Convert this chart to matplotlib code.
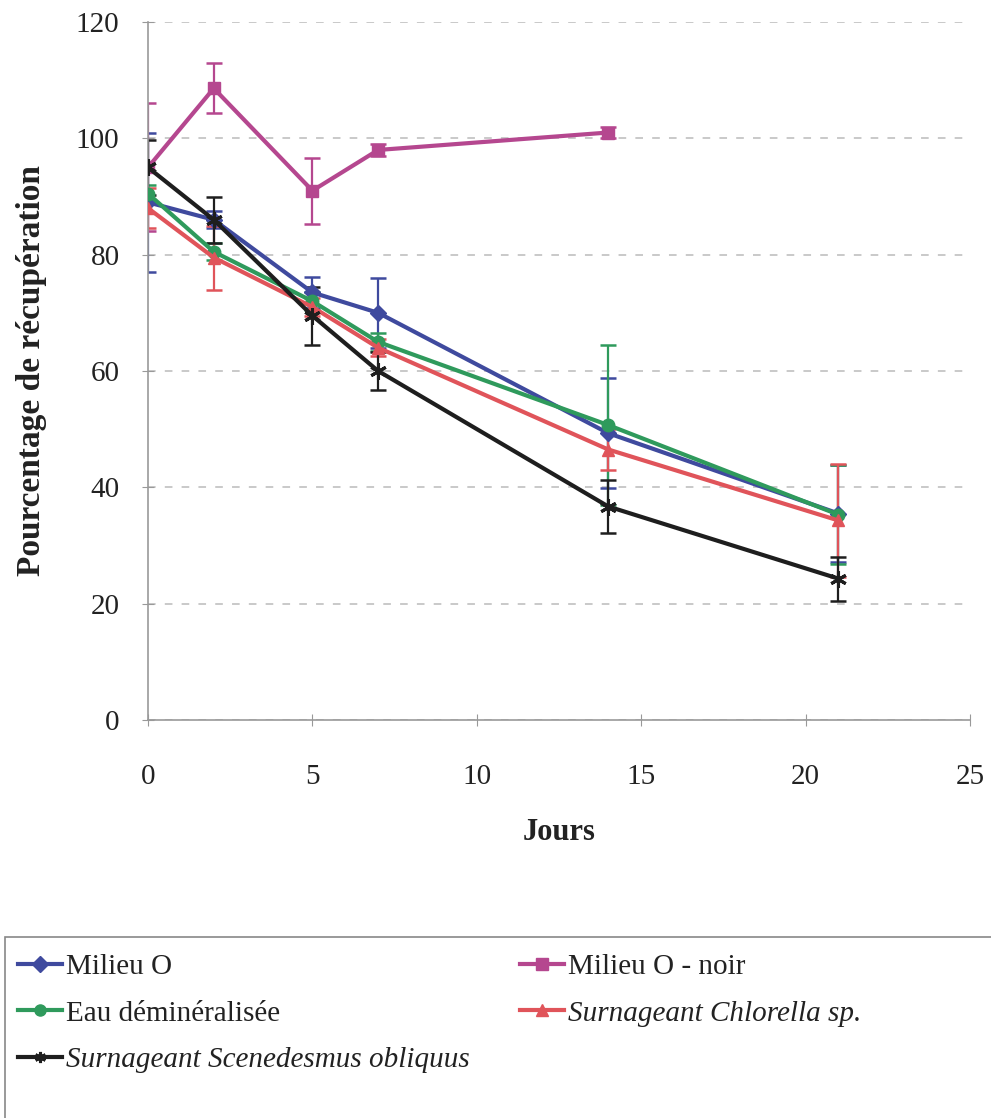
import matplotlib
matplotlib.use("Agg")
import matplotlib.pyplot as plt
from matplotlib.patches import Rectangle

plt.rcParams['font.family'] = ['Liberation Serif', 'DejaVu Serif']

days = [0, 2, 5, 7, 14, 21]
days_noir = [0, 2, 5, 7, 14]

milieu_o = [89, 86, 73.5, 70, 49.3, 35.5]
milieu_o_err = [12, 1.5, 2.7, 6, 9.5, 8.3]

milieu_noir = [95, 108.6, 91, 98, 101]
milieu_noir_err = [11, 4.3, 5.7, 1, 1]

eau = [90.5, 80.5, 72, 65, 50.7, 35.3]
eau_err = [1.5, 1.5, 1.5, 1.5, 13.8, 8.5]

chlorella = [88, 79.5, 71, 64, 46.5, 34.3]
chlorella_err = [3.5, 5.5, 1.5, 1.5, 3.5, 9.7]

scenedesmus = [95, 86, 69.5, 60, 36.7, 24.3]
scenedesmus_err = [4.7, 4, 5, 3.3, 4.5, 3.8]

labels = ["Milieu O", "Milieu O - noir", "Eau déminéralisée",
          "Surnageant Chlorella sp.", "Surnageant Scenedesmus obliquus"]

W, H = 991, 1118
fig = plt.figure(figsize=(W/100, H/100), dpi=100)
ax = fig.add_axes([148/W, 398/H, 822/W, 698/H])

series = [
    (days, milieu_o, milieu_o_err, '#3f4a9e', 'D', 8, labels[0]),
    (days_noir, milieu_noir, milieu_noir_err, '#b5478f', 's', 9, labels[1]),
    (days, eau, eau_err, '#2f9a5c', 'o', 9, labels[2]),
    (days, chlorella, chlorella_err, '#e0545a', '^', 9, labels[3]),
    (days, scenedesmus, scenedesmus_err, '#1e1e1e', (6, 2, 0), 12, labels[4]),
]

handles = {}
for x, y, e, c, m, ms, lab in series:
    ax.errorbar(x, y, yerr=e, color=c, lw=0, elinewidth=1.6, capsize=6,
                capthick=1.8, zorder=2)
    ln, = ax.plot(x, y, color=c, lw=3.0, marker=m, ms=ms, mec=c, mfc=c,
                  mew=2.2 if m == (6, 2, 0) else 1, zorder=3, label=lab)
    handles[lab] = ln

ax.set_xlim(0, 25)
ax.set_ylim(0, 120)
ax.set_xticks([0, 5, 10, 15, 20, 25])
ax.set_yticks([0, 20, 40, 60, 80, 100, 120])
ax.tick_params(axis='both', direction='inout', length=9, color='#999999',
               labelsize=21, labelcolor='#222222')
ax.tick_params(axis='x', pad=27)
ax.tick_params(axis='y', pad=16)
for s in ['top', 'right']:
    ax.spines[s].set_visible(False)
for s in ['left', 'bottom']:
    ax.spines[s].set_color('#999999')
    ax.spines[s].set_linewidth(1.2)
ax.yaxis.grid(True, linestyle=(0, (5, 6)), color='#bbbbbb', lw=1.1)
ax.set_axisbelow(True)

ax.set_xlabel("Jours", fontsize=22, fontweight='bold', color='#222222')
ax.set_ylabel("Pourcentage de récupération", fontsize=24, fontweight='bold',
              color='#222222')
ax.xaxis.set_label_coords(0.5, (720 - 818) / 698)
ax.yaxis.set_label_coords((47 - 148) / 822, 0.5)

# legend box
fig.patches.append(Rectangle((5/W, -0.02), 1.0, (H - 937)/H + 0.02,
                             transform=fig.transFigure, fill=False,
                             edgecolor='#888888', lw=1.2))

common = dict(loc='upper left', frameon=False, fontsize=21, handlelength=1.5,
              handletextpad=0.15, labelspacing=0.68, borderaxespad=0,
              borderpad=0)
col1 = [labels[0], labels[2], labels[4]]
col2 = [labels[1], labels[3]]
legs = []
legs.append(fig.legend([handles[l] for l in col1], col1,
                       bbox_to_anchor=(18/W, 1 - 954/H), **common))
legs.append(fig.legend([handles[l] for l in col2], col2,
                       bbox_to_anchor=(520/W, 1 - 954/H), **common))
for leg in legs:
    for t in leg.get_texts():
        t.set_color('#222222')
        if t.get_text().startswith("Surnageant"):
            t.set_style('italic')
    for h in leg.legend_handles:
        h.set_markersize(8)

fig.savefig("out.png", dpi=100)
